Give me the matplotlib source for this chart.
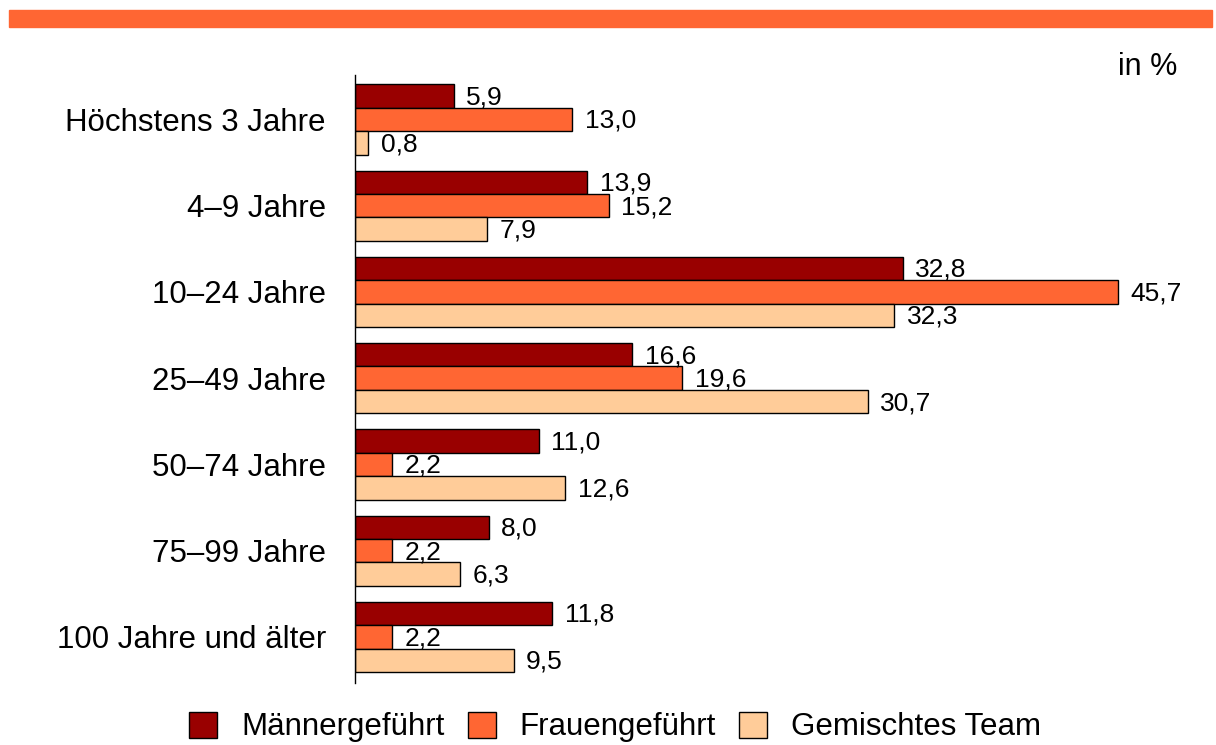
import matplotlib.pyplot as plt
from matplotlib.patches import Patch, Rectangle

# data
categories = ["Höchstens 3 Jahre", "4–9 Jahre", "10–24 Jahre", "25–49 Jahre",
              "50–74 Jahre", "75–99 Jahre", "100 Jahre und älter"]
series_names = ["Männergeführt", "Frauengeführt", "Gemischtes Team"]
maenner = [5.9, 13.9, 32.8, 16.6, 11.0, 8.0, 11.8]
frauen = [13.0, 15.2, 45.7, 19.6, 2.2, 2.2, 2.2]
gemischt = [0.8, 7.9, 32.3, 30.7, 12.6, 6.3, 9.5]

colors = ["#990000", "#FF6633", "#FFCC99"]

plt.rcParams['font.family'] = ['Liberation Sans', 'DejaVu Sans']

fig = plt.figure(figsize=(12.16, 7.45), dpi=100)
ax = fig.add_axes([355 / 1216, 1 - 683 / 745, (1200 - 355) / 1216, (683 - 75) / 745])

# orange band on top
fig.patches.append(Rectangle((9 / 1216, 1 - 27 / 745), 1203 / 1216, 17 / 745,
                             transform=fig.transFigure, color="#FF6633", zorder=0))

h = 0.272
offsets = [-h, 0, h]
for vals, off, col in zip([maenner, frauen, gemischt], offsets, colors):
    ys = [i + off for i in range(len(categories))]
    ax.barh(ys, vals, height=h, color=col, edgecolor="black", linewidth=1)
    for y, v in zip(ys, vals):
        ax.annotate(f"{v:.1f}".replace(".", ","), (v, y), xytext=(9, -1),
                    textcoords="offset points", va="center", ha="left", fontsize=19)

ax.set_xlim(0, (1200 - 355) / 16.7)
ax.set_ylim(6.534, -0.516)
ax.set_yticks(range(len(categories)))
ax.set_yticklabels(categories, fontsize=22.5)
ax.tick_params(axis="y", length=0, pad=21)
ax.set_xticks([])
for s in ["top", "right", "bottom"]:
    ax.spines[s].set_visible(False)
ax.spines["left"].set_linewidth(1)

fig.text(1177 / 1216, 1 - 67 / 745, "in %", ha="right", va="center", fontsize=22)

handles = [Patch(facecolor=c, edgecolor="black", linewidth=1) for c in colors]
fig.legend(handles, series_names, loc="center", bbox_to_anchor=(615 / 1216, 1 - 727 / 745),
           ncol=3, frameon=False, fontsize=22.5, handlelength=0.9, handleheight=0.9,
           handletextpad=0.75, columnspacing=0.75, borderpad=0)

fig.savefig("out.png", dpi=100)
